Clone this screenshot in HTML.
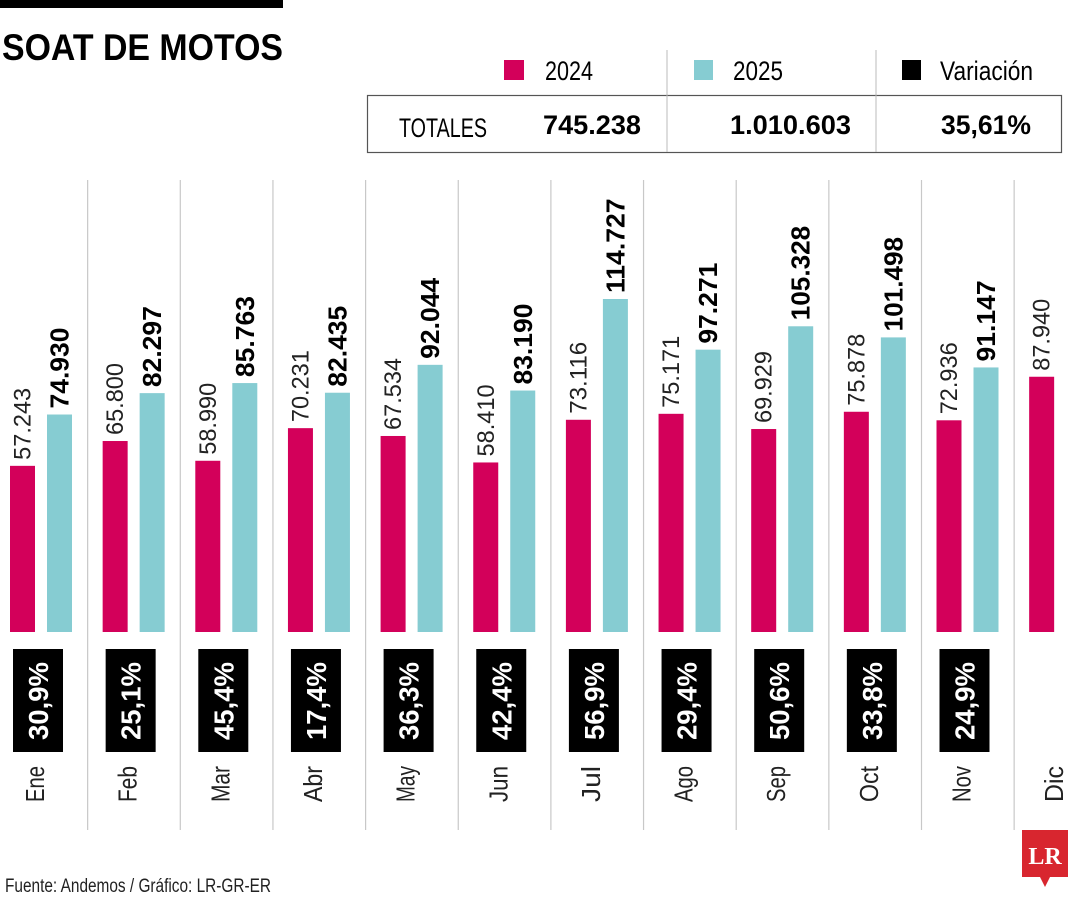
<!DOCTYPE html>
<html><head><meta charset="utf-8"><style>
html,body{margin:0;padding:0;background:#fff;}
svg{display:block;font-family:"Liberation Sans",sans-serif;}
</style></head><body>
<svg id="chart" width="1080" height="900" viewBox="0 0 1080 900">
<rect x="0" y="0" width="283" height="8" fill="#000"/>
<text x="2" y="60" font-size="37" font-weight="bold" textLength="281" lengthAdjust="spacingAndGlyphs">SOAT DE MOTOS</text>
<g>
<rect x="504" y="60" width="20" height="20" fill="#d3005a"/>
<text x="545" y="80" font-size="27" textLength="48" lengthAdjust="spacingAndGlyphs">2024</text>
<rect x="694" y="60" width="19" height="20" fill="#86ccd2"/>
<text x="733" y="80" font-size="27" textLength="50" lengthAdjust="spacingAndGlyphs">2025</text>
<rect x="902" y="60" width="19" height="20" fill="#000"/>
<text x="940" y="80" font-size="27" textLength="93" lengthAdjust="spacingAndGlyphs">Variación</text>
<line x1="667" y1="50" x2="667" y2="95" stroke="#bbb" stroke-width="1"/>
<line x1="876" y1="50" x2="876" y2="95" stroke="#bbb" stroke-width="1"/>
</g>
<g>
<rect x="367.5" y="95.5" width="694" height="57" fill="none" stroke="#555" stroke-width="1.2"/>
<line x1="667" y1="95" x2="667" y2="152" stroke="#bbb"/>
<line x1="876" y1="95" x2="876" y2="152" stroke="#bbb"/>
<text x="399" y="137" font-size="27" textLength="88" lengthAdjust="spacingAndGlyphs">TOTALES</text>
<text x="641" y="134" font-size="27" font-weight="bold" text-anchor="end" textLength="98" lengthAdjust="spacingAndGlyphs">745.238</text>
<text x="851" y="134" font-size="27" font-weight="bold" text-anchor="end" textLength="121" lengthAdjust="spacingAndGlyphs">1.010.603</text>
<text x="1031" y="134" font-size="27" font-weight="bold" text-anchor="end" textLength="90" lengthAdjust="spacingAndGlyphs">35,61%</text>
</g>
<g id="plot"></g>
<text x="5" y="892" font-size="19" textLength="266" lengthAdjust="spacingAndGlyphs" fill="#222">Fuente: Andemos / Gráfico: LR-GR-ER</text>
<g>
<path d="M1022 830 H1068 V877 H1050 L1045 887 L1040 877 H1022 Z" fill="#d8262f"/>
<text x="1045" y="864" font-size="24" font-weight="bold" fill="#fff" text-anchor="middle" font-family="Liberation Serif,serif">LR</text>
</g>
</svg>
<script>
const months = ["Ene","Feb","Mar","Abr","May","Jun","Jul","Ago","Sep","Oct","Nov","Dic"];
const values2024 = [57243,65800,58990,70231,67534,58410,73116,75171,69929,75878,72936,87940];
const values2025 = [74930,82297,85763,82435,92044,83190,114727,97271,105328,101498,91147,null];
const labels2024 = ["57.243","65.800","58.990","70.231","67.534","58.410","73.116","75.171","69.929","75.878","72.936","87.940"];
const labels2025 = ["74.930","82.297","85.763","82.435","92.044","83.190","114.727","97.271","105.328","101.498","91.147",""];
const variation = ["30,9%","25,1%","45,4%","17,4%","36,3%","42,4%","56,9%","29,4%","50,6%","33,8%","24,9%",""];

const NS="http://www.w3.org/2000/svg";
const plot=document.getElementById('plot');
const baseY=632, pxPerUnit=333/114727, pitch=92.65, x0=10, barW=25;
function y(v){return baseY - v*pxPerUnit;}
function colX(i){return x0 + i*pitch;}
function mk(tag,attrs){const e=document.createElementNS(NS,tag);for(const k in attrs)e.setAttribute(k,attrs[k]);plot.appendChild(e);return e;}
for(let i=0;i<months.length;i++){
  const cx=colX(i);
  if(i>0){
    const s=mk('line',{x1:cx-15,y1:180,x2:cx-15,y2:830,stroke:'#c8c8c8','stroke-width':1.2});
    
    
  }
  const b1=mk('rect',{x:cx,y:y(values2024[i]),width:barW,height:baseY-y(values2024[i]),fill:'#d3005a'});
  
  
  const t1=mk('text',{transform:`translate(${cx+barW/2+8},${y(values2024[i])-6}) rotate(-90)`,'font-size':24,fill:'#222',textLength:labels2024[i].length*12,lengthAdjust:'spacingAndGlyphs'});
  t1.textContent=labels2024[i];
  
  
  if(values2025[i]!=null){
    const b2=mk('rect',{x:cx+37,y:y(values2025[i]),width:barW,height:baseY-y(values2025[i]),fill:'#86ccd2'});
    
    
    const t2=mk('text',{transform:`translate(${cx+37+barW/2+9},${y(values2025[i])-6}) rotate(-90)`,'font-size':26,'font-weight':'bold',fill:'#000',textLength:labels2025[i].length*13.5,lengthAdjust:'spacingAndGlyphs'});
    t2.textContent=labels2025[i];
    
    
  }
  if(variation[i]){
    const bx=mk('rect',{x:cx+3,y:649,width:50,height:103,fill:'#000'});
    
    
    const vt=mk('text',{transform:`translate(${cx+38},${740}) rotate(-90)`,'font-size':28,'font-weight':'bold',fill:'#fff',textLength:78,lengthAdjust:'spacingAndGlyphs'});
    vt.textContent=variation[i];
    
    
  }
  const ml=mk('text',{transform:`translate(${cx+34},${802}) rotate(-90)`,'font-size':26,fill:'#222',textLength:months[i].length*12,lengthAdjust:'spacingAndGlyphs'});
  ml.textContent=months[i];
  
  
}
</script>
</body></html>
